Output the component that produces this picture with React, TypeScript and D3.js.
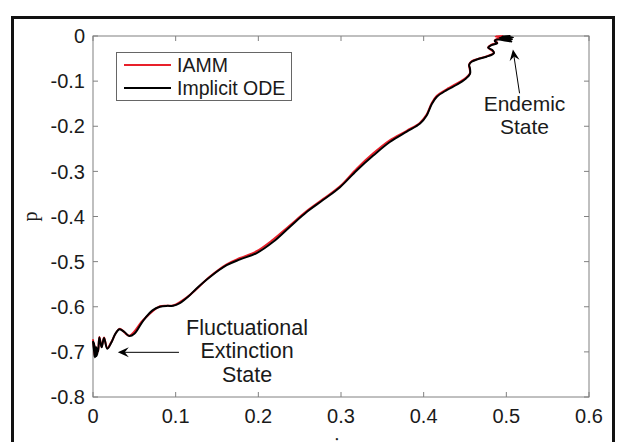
import React from 'react';
import * as d3 from 'd3';

const width = 617;
const height = 442;
const margin = { top: 36, right: 28, bottom: 45, left: 93 };

const xTicks = [0, 0.1, 0.2, 0.3, 0.4, 0.5, 0.6];
const yTicks = [0, -0.1, -0.2, -0.3, -0.4, -0.5, -0.6, -0.7, -0.8];

// black curve (Implicit ODE)
const odeX = [
	0.0, 0.002, 0.0005, 0.003, 0.001, 0.0035, 0.0005, 0.004, 0.001, 0.0045,
	0.0015, 0.005, 0.002, 0.0055, 0.004, 0.006,
	0.0077, 0.0105, 0.0133, 0.0173, 0.022, 0.027, 0.032, 0.038, 0.044, 0.05,
	0.061, 0.072, 0.081, 0.09, 0.097, 0.105, 0.115, 0.125, 0.1415, 0.1617,
	0.178, 0.198, 0.218, 0.238, 0.2585, 0.2786, 0.2988, 0.319, 0.339, 0.359,
	0.3795, 0.3956, 0.4036, 0.4097, 0.4157, 0.4278, 0.44, 0.45, 0.456, 0.456,
	0.455, 0.458, 0.466, 0.476, 0.485, 0.483, 0.478, 0.482, 0.489, 0.486,
	0.49, 0.506, 0.491, 0.507, 0.492, 0.508, 0.495, 0.505
];
const odeP = [
	-0.676, -0.712, -0.677, -0.711, -0.679, -0.71, -0.681, -0.709, -0.683, -0.708,
	-0.685, -0.706, -0.687, -0.704, -0.69, -0.7,
	-0.668, -0.69, -0.669, -0.693, -0.68, -0.66, -0.65, -0.656, -0.665, -0.66,
	-0.63, -0.608, -0.6, -0.598, -0.598, -0.592, -0.578, -0.56, -0.534, -0.508,
	-0.495, -0.481, -0.456, -0.423, -0.39, -0.363, -0.335, -0.298, -0.265, -0.235,
	-0.212, -0.194, -0.176, -0.151, -0.135, -0.12, -0.108, -0.096, -0.084, -0.072,
	-0.064, -0.057, -0.051, -0.046, -0.038, -0.031, -0.026, -0.02, -0.016, -0.011,
	-0.008, -0.012, -0.008, -0.007, -0.004, -0.003, -0.001, 0.0
];

// red curve (IAMM)
const iammX = [
	0.0, 0.002, 0.001, 0.004, 0.006, 0.0077, 0.0105, 0.0133, 0.0173, 0.022,
	0.032, 0.044, 0.061, 0.081, 0.097, 0.115, 0.1415, 0.1617, 0.178, 0.198,
	0.218, 0.238, 0.2585, 0.2786, 0.2988, 0.319, 0.339, 0.359, 0.3795, 0.3956,
	0.4036, 0.4097, 0.4157, 0.4278, 0.45, 0.456, 0.455, 0.458, 0.476, 0.485,
	0.478, 0.482, 0.489, 0.486, 0.49, 0.5, 0.487, 0.496
];
const iammP = [
	-0.672, -0.708, -0.68, -0.704, -0.698, -0.667, -0.689, -0.668, -0.692, -0.679,
	-0.649, -0.664, -0.629, -0.599, -0.597, -0.577, -0.533, -0.506, -0.492, -0.477,
	-0.451, -0.42, -0.388, -0.361, -0.333, -0.294, -0.26, -0.231, -0.21, -0.192,
	-0.174, -0.149, -0.133, -0.118, -0.094, -0.083, -0.063, -0.056, -0.045, -0.037,
	-0.025, -0.019, -0.015, -0.01, -0.006, -0.004, -0.001, 0.0
];

const seriesNames = ['IAMM', 'Implicit ODE'];
const seriesColors = ['#e8202a', '#000000'];

const endemicLines = ['Endemic', 'State'];
const extinctionLines = ['Fluctuational', 'Extinction', 'State'];

const font = '"Liberation Sans", Arial, Helvetica, sans-serif';
const axisColor = '#808080';
const textColor = '#1a1a1a';

const xScale = d3.scaleLinear().domain([0, 0.6]).range([margin.left, width - margin.right]);
const yScale = d3.scaleLinear().domain([-0.8, 0]).range([height - margin.bottom, margin.top]);

const lineGen = d3
	.line<[number, number]>()
	.x((d) => xScale(d[0]))
	.y((d) => yScale(d[1]))
	.curve(d3.curveCatmullRom.alpha(0.5));

function Arrow({ from, to }: { from: [number, number]; to: [number, number] }) {
	// from / to in data units; MATLAB style notched head
	const x1 = xScale(from[0]);
	const y1 = yScale(from[1]);
	const x2 = xScale(to[0]);
	const y2 = yScale(to[1]);
	const ang = Math.atan2(y2 - y1, x2 - x1);
	const len = 11;
	const half = 5;
	const back = 7;
	const bx = x2 - len * Math.cos(ang);
	const by = y2 - len * Math.sin(ang);
	const nx = -Math.sin(ang);
	const ny = Math.cos(ang);
	const notchX = x2 - back * Math.cos(ang);
	const notchY = y2 - back * Math.sin(ang);
	const head = `M${x2},${y2}L${bx + nx * half},${by + ny * half}L${notchX},${notchY}L${bx - nx * half},${by - ny * half}Z`;
	return (
		<g>
			<line x1={x1} y1={y1} x2={notchX} y2={notchY} stroke="#000" strokeWidth={1} />
			<path d={head} fill="#000" />
		</g>
	);
}

export default function App() {
	const ode = odeX.map((x, i) => [x, odeP[i]] as [number, number]);
	const iamm = iammX.map((x, i) => [x, iammP[i]] as [number, number]);
	const x0 = margin.left;
	const x1 = width - margin.right;
	const y0 = height - margin.bottom;
	const y1 = margin.top;
	const tick = 5;

	return (
		<svg
			width={width}
			height={height}
			viewBox={`0 0 ${width} ${height}`}
			style={{ position: 'absolute', left: 0, top: 0, background: '#fff' }}
			fontFamily={font}
		>
			<rect x={0} y={0} width={width} height={height} fill="#fff" />
			{/* outer figure frame */}
			<rect x={12.5} y={17.5} width={601} height={480} fill="none" stroke="#111" strokeWidth={3} />

			{/* axes box */}
			<rect x={x0} y={y1} width={x1 - x0} height={y0 - y1} fill="none" stroke={axisColor} strokeWidth={1} />
			{xTicks.map((t) => (
				<g key={'x' + t}>
					<line x1={xScale(t)} x2={xScale(t)} y1={y0} y2={y0 - tick} stroke={axisColor} />
					<line x1={xScale(t)} x2={xScale(t)} y1={y1} y2={y1 + tick} stroke={axisColor} />
					<text x={xScale(t)} y={423} textAnchor="middle" fontSize={20} fill={textColor}>
						{t === 0 ? '0' : String(t)}
					</text>
				</g>
			))}
			{yTicks.map((t) => (
				<g key={'y' + t}>
					<line x1={x0} x2={x0 + tick} y1={yScale(t)} y2={yScale(t)} stroke={axisColor} />
					<line x1={x1} x2={x1 - tick} y1={yScale(t)} y2={yScale(t)} stroke={axisColor} />
					<text x={85} y={yScale(t)} dy="0.36em" textAnchor="end" fontSize={20} fill={textColor}>
						{t === 0 ? '0' : String(t)}
					</text>
				</g>
			))}

			{/* axis labels */}
			<text
				transform={`translate(37, ${(y0 + y1) / 2}) rotate(-90)`}
				textAnchor="middle"
				fontSize={20}
				fontFamily='"Liberation Serif", serif'
				fill={textColor}
			>
				p
			</text>
			<text x={(x0 + x1) / 2 - 4} y={452} textAnchor="middle" fontSize={20} fontFamily='"Liberation Serif", serif' fill={textColor}>
				i
			</text>

			{/* curves */}
			<path d={lineGen(iamm) || ''} fill="none" stroke={seriesColors[0]} strokeWidth={2} strokeLinejoin="round" />
			<path d={lineGen(ode) || ''} fill="none" stroke={seriesColors[1]} strokeWidth={2} strokeLinejoin="round" />

			{/* legend */}
			<rect x={116.5} y={52.5} width={175} height={48} fill="#fff" stroke="#666" strokeWidth={1} />
			{seriesNames.map((name, i) => (
				<g key={name}>
					<line x1={124} x2={171} y1={65 + i * 23} y2={65 + i * 23} stroke={seriesColors[i]} strokeWidth={2} />
					<text x={177} y={65 + i * 23} dy="0.36em" fontSize={19.5} fill={textColor}>
						{name}
					</text>
				</g>
			))}

			{/* annotations */}
			<Arrow from={[0.516, -0.127]} to={[0.508, -0.03]} />
			{endemicLines.map((s, i) => (
				<text key={s} x={xScale(0.522)} y={103 + i * 23} dy="0.36em" textAnchor="middle" fontSize={21} fill={textColor}>
					{s}
				</text>
			))}
			<Arrow from={[0.104, -0.701]} to={[0.03, -0.701]} />
			{extinctionLines.map((s, i) => (
				<text key={s + i} x={247} y={327 + i * 23.5} dy="0.36em" textAnchor="middle" fontSize={21.5} fill={textColor}>
					{s}
				</text>
			))}
		</svg>
	);
}
